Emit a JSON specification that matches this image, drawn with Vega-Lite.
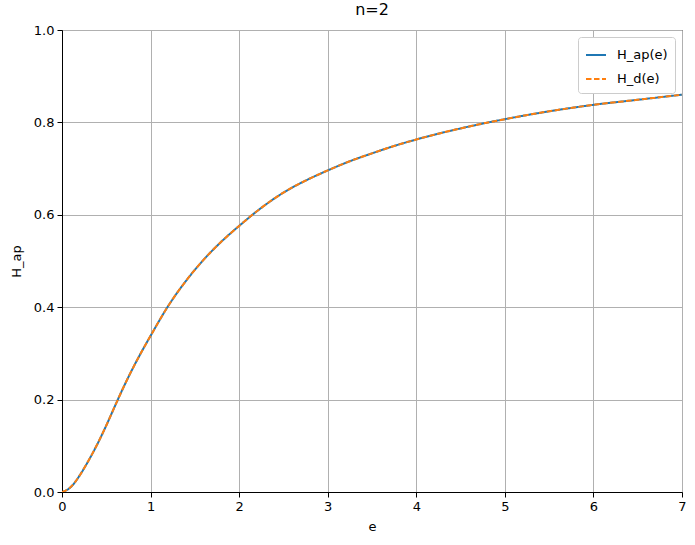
{
  "$schema": "https://vega.github.io/schema/vega-lite/v6.json",
  "width": 620,
  "height": 462,
  "autosize": {"type": "none"},
  "padding": {"left": 62, "top": 30, "right": 13, "bottom": 53},
  "background": "white",
  "title": {"text": "n=2", "fontSize": 16, "fontWeight": "normal", "font": "DejaVu Sans", "color": "black", "offset": 6, "anchor": "middle"},
  "config": {
    "font": "DejaVu Sans",
    "view": {"stroke": "black", "strokeWidth": 1},
    "axis": {
      "labelFont": "DejaVu Sans", "labelFontSize": 13, "labelColor": "black",
      "titleFont": "DejaVu Sans", "titleFontSize": 13, "titleFontWeight": "normal", "titleColor": "black",
      "gridColor": "#b0b0b0", "gridWidth": 1, "gridOpacity": 1,
      "domainColor": "black", "tickColor": "black", "tickSize": 5, "labelPadding": 3,
      "labelFlush": false, "labelOverlap": false
    },
    "legend": {
      "labelFont": "DejaVu Sans", "labelFontSize": 13, "labelColor": "black"
    }
  },
  "data": {
    "values": [
      {"e": 0, "H_ap": 0, "H_d": 0},
      {"e": 0.07, "H_ap": 0.006, "H_d": 0.006},
      {"e": 0.15, "H_ap": 0.022, "H_d": 0.022},
      {"e": 0.2, "H_ap": 0.036, "H_d": 0.036},
      {"e": 0.3, "H_ap": 0.068, "H_d": 0.068},
      {"e": 0.4, "H_ap": 0.104, "H_d": 0.104},
      {"e": 0.5, "H_ap": 0.144, "H_d": 0.144},
      {"e": 0.6, "H_ap": 0.187, "H_d": 0.187},
      {"e": 0.7, "H_ap": 0.229, "H_d": 0.229},
      {"e": 0.8, "H_ap": 0.268, "H_d": 0.268},
      {"e": 0.9, "H_ap": 0.304, "H_d": 0.304},
      {"e": 1.0, "H_ap": 0.338, "H_d": 0.338},
      {"e": 1.2, "H_ap": 0.403, "H_d": 0.403},
      {"e": 1.4, "H_ap": 0.457, "H_d": 0.457},
      {"e": 1.6, "H_ap": 0.503, "H_d": 0.503},
      {"e": 1.8, "H_ap": 0.542, "H_d": 0.542},
      {"e": 2.0, "H_ap": 0.576, "H_d": 0.576},
      {"e": 2.25, "H_ap": 0.615, "H_d": 0.615},
      {"e": 2.5, "H_ap": 0.648, "H_d": 0.648},
      {"e": 2.75, "H_ap": 0.674, "H_d": 0.674},
      {"e": 3.0, "H_ap": 0.696, "H_d": 0.696},
      {"e": 3.25, "H_ap": 0.716, "H_d": 0.716},
      {"e": 3.5, "H_ap": 0.733, "H_d": 0.733},
      {"e": 3.75, "H_ap": 0.749, "H_d": 0.749},
      {"e": 4.0, "H_ap": 0.763, "H_d": 0.763},
      {"e": 4.5, "H_ap": 0.787, "H_d": 0.787},
      {"e": 5.0, "H_ap": 0.807, "H_d": 0.807},
      {"e": 5.5, "H_ap": 0.824, "H_d": 0.824},
      {"e": 6.0, "H_ap": 0.838, "H_d": 0.838},
      {"e": 6.5, "H_ap": 0.849, "H_d": 0.849},
      {"e": 7.0, "H_ap": 0.86, "H_d": 0.86}
    ]
  },
  "transform": [
    {"fold": ["H_ap", "H_d"], "as": ["series", "H"]}
  ],
  "mark": {"type": "line", "strokeWidth": 2, "clip": true, "interpolate": "monotone"},
  "encoding": {
    "x": {
      "field": "e", "type": "quantitative", "title": "e",
      "scale": {"domain": [0, 7], "nice": false},
      "axis": {"values": [0, 1, 2, 3, 4, 5, 6, 7], "format": "d", "titlePadding": 7}
    },
    "y": {
      "field": "H", "type": "quantitative", "title": "H_ap",
      "scale": {"domain": [0, 1], "nice": false},
      "axis": {"values": [0, 0.2, 0.4, 0.6, 0.8, 1.0], "format": ".1f", "titlePadding": 10}
    },
    "color": {
      "field": "series", "type": "nominal",
      "scale": {"domain": ["H_ap", "H_d"], "range": ["#1f77b4", "#ff7f0e"]},
      "legend": {
        "title": null, "orient": "top-right", "offset": 7,
        "labelExpr": "datum.value + '(e)'",
        "symbolType": "stroke", "symbolSize": 400, "symbolStrokeWidth": 2,
        "fillColor": "white", "strokeColor": "#cccccc", "cornerRadius": 3,
        "padding": 7, "rowPadding": 6, "labelOffset": 10
      }
    },
    "strokeDash": {
      "field": "series", "type": "nominal",
      "scale": {"domain": ["H_ap", "H_d"], "range": [[1, 0], [5.5, 2.5]]},
      "legend": {
        "title": null, "orient": "top-right", "offset": 7,
        "labelExpr": "datum.value + '(e)'",
        "symbolType": "stroke", "symbolSize": 400, "symbolStrokeWidth": 2,
        "fillColor": "white", "strokeColor": "#cccccc", "cornerRadius": 3,
        "padding": 7, "rowPadding": 6, "labelOffset": 10
      }
    }
  }
}
